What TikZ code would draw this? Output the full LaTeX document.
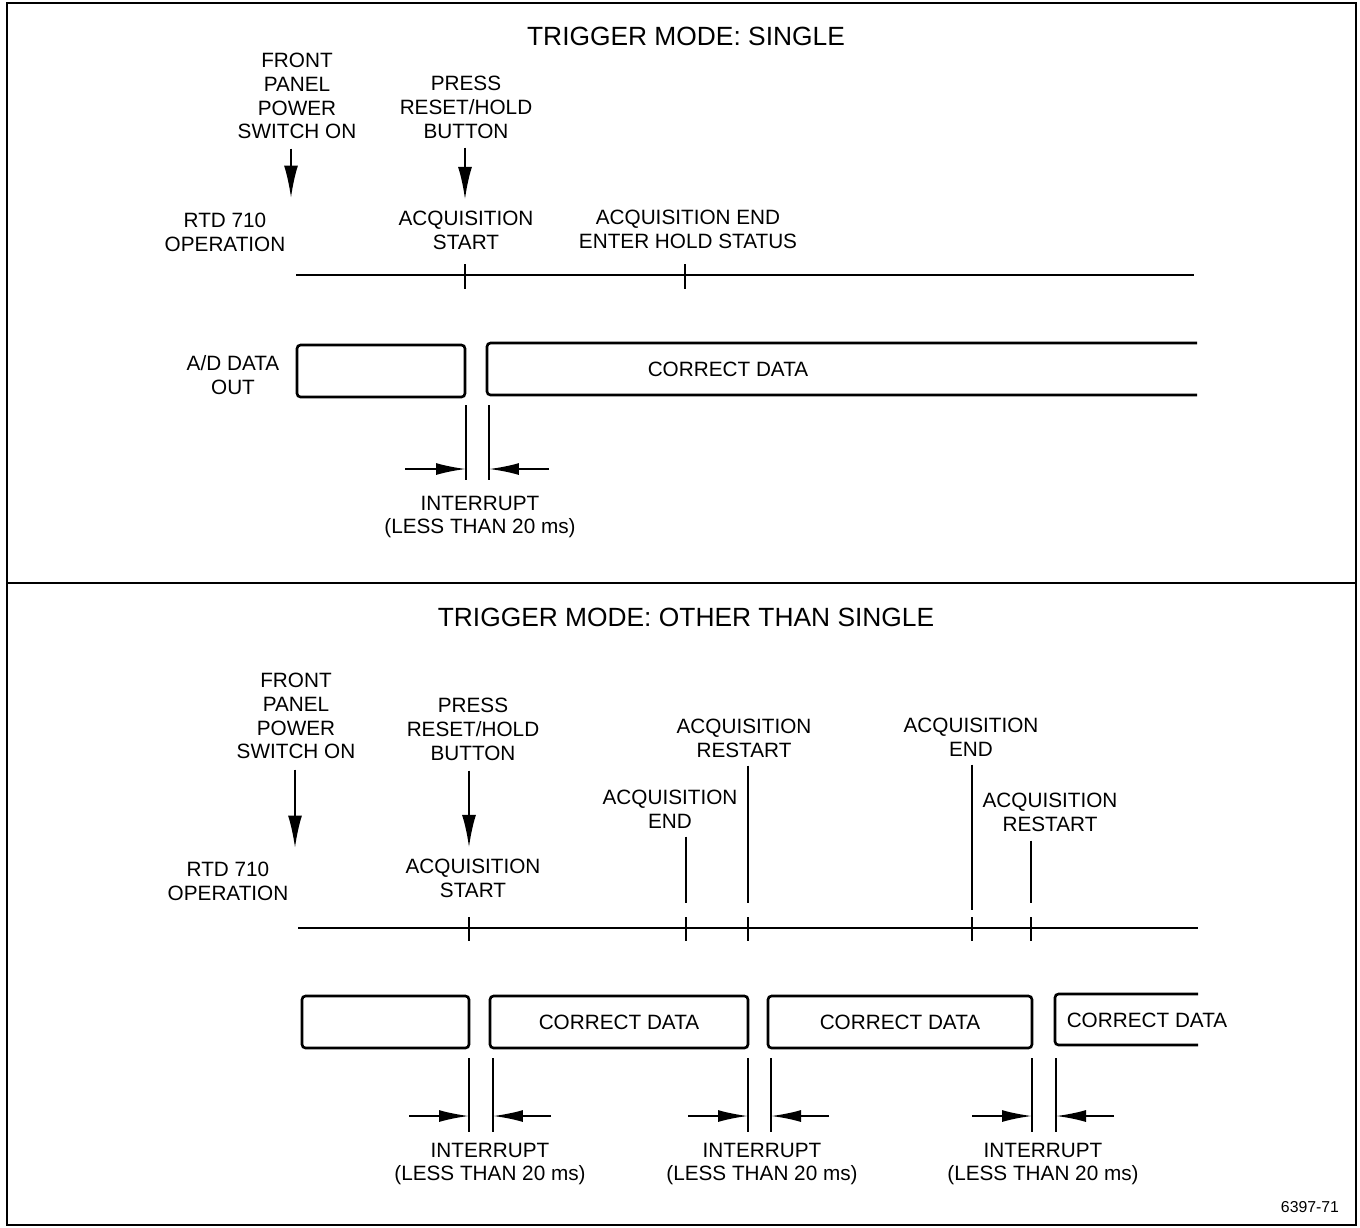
\documentclass[tikz,border=0pt]{standalone}
\usepackage{fontspec}
\setmainfont{Liberation Sans}
\usetikzlibrary{arrows.meta,positioning,calc}
\tikzset{
  lbl/.style  ={font=\fontsize{11.8}{13.6}\selectfont, align=center, inner sep=0pt},
  ttl/.style  ={font=\fontsize{15}{17}\selectfont, inner sep=0pt},
  dbox/.style ={draw, line width=1.5pt, rounded corners=2pt, minimum height=1.04cm,
                inner sep=0pt, font=\fontsize{11.8}{13.6}\selectfont},
  frm/.style  ={line width=1.1pt},
  tline/.style={line width=1.5pt},
  evl/.style  ={line width=1.3pt},
  ar/.style   ={-{Latex[length=6.5mm,width=2.8mm]}, line width=1.3pt},
  iar/.style  ={-{Latex[length=6mm,width=2.4mm]}, line width=1.2pt},
}
\begin{document}
\begin{tikzpicture}[x=0.02cm, y=-0.02cm]
\useasboundingbox (0,0) rectangle (1360,1228);
\draw[frm] (7,3) rectangle (1356,1225);
\draw[frm] (7,583) -- (1356,583);

% ---- trigger mode single ----
\node[ttl] (ttlA) at (686,36) {TRIGGER MODE: SINGLE};
\node[lbl] (fpA) at (297,96) {FRONT\\PANEL\\POWER\\SWITCH ON};
\node[lbl] (prA) at (466,107) {PRESS\\RESET/HOLD\\BUTTON};
\node[lbl] (rtdA) at (225,232) {RTD 710\\OPERATION};
\node[lbl] (asA) at (466,230) {ACQUISITION\\START};
\node[lbl] (aeA) at (688,229) {ACQUISITION END\\ENTER HOLD STATUS};

\coordinate (t0A) at (296,275);
\coordinate (tEndA) at (1194,275);
\coordinate (t1A) at (465,275);
\coordinate (t2A) at (685,275);
\coordinate (pwA) at (291,198);
\draw[tline] (t0A) -- (tEndA);
\foreach \t in {t1A,t2A} \draw[evl] ($(\t)+(0,-11)$) -- ($(\t)+(0,14)$);

\draw[ar, shorten <=0.18cm] (fpA.south -| pwA) -- (pwA);
\draw[ar, shorten <=0.18cm, shorten >=0.22cm] (prA.south -| t1A) -- (asA.north -| t1A);

\node[lbl] (adlA) at (233,375) {A/D DATA\\OUT};
\node[dbox, minimum width=3.36cm] (adA1) at (381,371) {};
\coordinate (adA2) at (487,343);
\draw[tline, rounded corners=2pt] (1197,343) -- (adA2) -- (487,395) -- (1197,395);
\node[lbl] (cdA) at (728,369) {CORRECT DATA};

\coordinate (iLA) at (466,405);
\coordinate (iRA) at (489,405);
\draw[evl] (iLA) -- ++(0,75);
\draw[evl] (iRA) -- ++(0,75);
\draw[iar] ($(iLA)+(-61,64)$) -- ($(iLA)+(0,64)$);
\draw[iar] ($(iRA)+(60,64)$) -- ($(iRA)+(0,64)$);
\node[lbl] (inA) at (480,517) {INTERRUPT\\(LESS THAN 20 ms)};

% ---- trigger mode other than single ----
\node[ttl] (ttlB) at (686,617) {TRIGGER MODE: OTHER THAN SINGLE};
\node[lbl] (fpB) at (296,716) {FRONT\\PANEL\\POWER\\SWITCH ON};
\node[lbl] (prB) at (473,729) {PRESS\\RESET/HOLD\\BUTTON};
\node[lbl] (rtdB) at (228,881) {RTD 710\\OPERATION};
\node[lbl] (asB) at (473,878) {ACQUISITION\\START};
\node[lbl] (aeB1) at (670,809) {ACQUISITION\\END};
\node[lbl] (arB1) at (744,738) {ACQUISITION\\RESTART};
\node[lbl] (aeB2) at (971,737) {ACQUISITION\\END};
\node[lbl] (arB2) at (1050,812) {ACQUISITION\\RESTART};

\coordinate (t0B) at (298,928);
\coordinate (tEndB) at (1198,928);
\coordinate (t1B) at (469,928);
\coordinate (t2B) at (686,928);
\coordinate (t3B) at (748,928);
\coordinate (t4B) at (972,928);
\coordinate (t5B) at (1031,928);
\coordinate (pwB) at (295,848);
\draw[tline] (t0B) -- (tEndB);
\foreach \t in {t1B,t2B,t3B,t4B,t5B} \draw[evl] ($(\t)+(0,-11)$) -- ($(\t)+(0,13)$);

\draw[ar, shorten <=0.2cm] (fpB.south -| pwB) -- (pwB);
\draw[ar, shorten <=0.2cm, shorten >=0.22cm] (prB.south -| t1B) -- (asB.north -| t1B);
\draw[evl] ($(aeB1.south -| t2B)+(0,8)$) -- ($(t2B)+(0,-25)$);
\draw[evl] ($(arB1.south -| t3B)+(0,8)$) -- ($(t3B)+(0,-25)$);
\draw[evl] ($(aeB2.south -| t4B)+(0,8)$) -- ($(t4B)+(0,-18)$);
\draw[evl] ($(arB2.south -| t5B)+(0,9)$) -- ($(t5B)+(0,-25)$);

\node[dbox, minimum width=3.34cm] (adB1) at (385.5,1022) {};
\node[dbox, minimum width=5.16cm] (adB2) at (619,1022) {CORRECT DATA};
\node[dbox, minimum width=5.28cm] (adB3) at (900,1022) {CORRECT DATA};
\coordinate (adB4) at (1055,994);
\draw[tline, rounded corners=2pt] (1198,994) -- (adB4) -- (1055,1045) -- (1198,1045);
\node[lbl] (cdB4) at (1147,1020) {CORRECT DATA};

\foreach \xl/\xr/\xt/\n in {469/493/490/1, 748/771/762/2, 1032/1056/1043/3} {
  \coordinate (iL\n) at (\xl,1058);
  \coordinate (iR\n) at (\xr,1058);
  \draw[evl] (iL\n) -- ++(0,74);
  \draw[evl] (iR\n) -- ++(0,74);
  \draw[iar] ($(iL\n)+(-60,58)$) -- ($(iL\n)+(0,58)$);
  \draw[iar] ($(iR\n)+(58,58)$) -- ($(iR\n)+(0,58)$);
  \node[lbl] (inB\n) at (\xt,1164) {INTERRUPT\\(LESS THAN 20 ms)};
}

\node[font=\fontsize{9}{10}\selectfont, inner sep=0pt] (fig) at (1310,1207) {6397-71};
\end{tikzpicture}
\end{document}
